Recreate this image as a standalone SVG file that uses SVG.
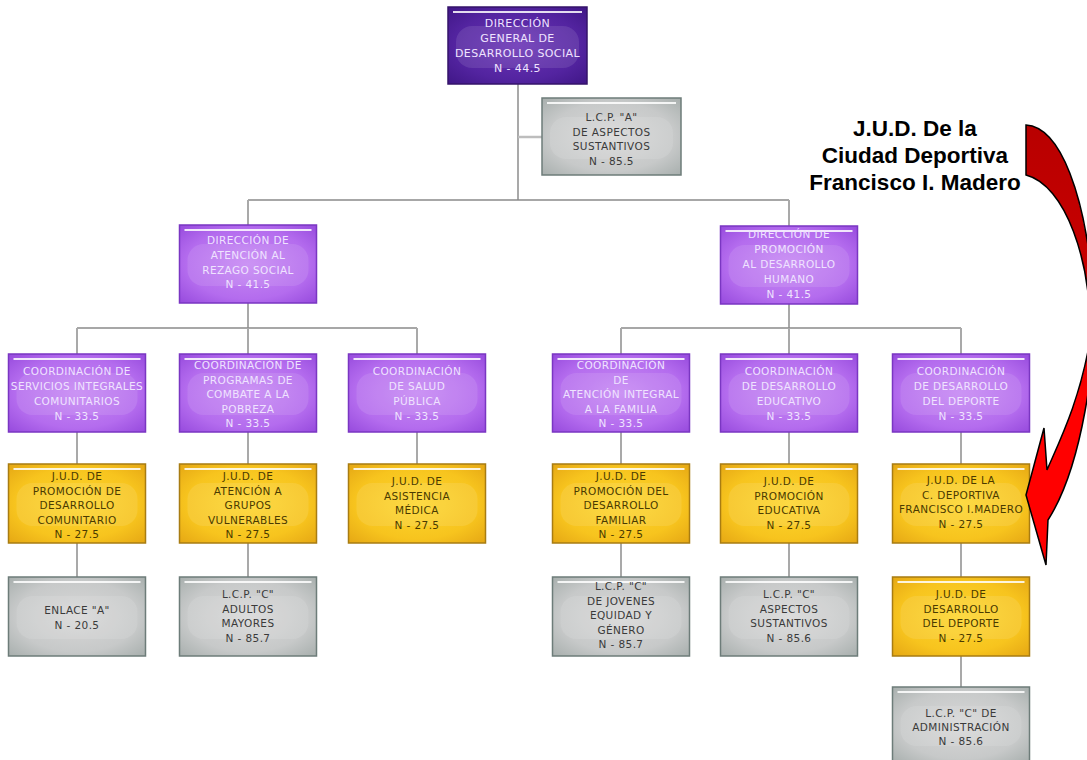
<svg xmlns="http://www.w3.org/2000/svg" width="1087" height="760" viewBox="0 0 1087 760">
<style>
.box-dp{fill:url(#gDP);stroke:#35136a;stroke-width:1.5}
.box-p{fill:url(#gP);stroke:#7a36c2;stroke-width:1.5}
.box-o{fill:url(#gO);stroke:#a87c12;stroke-width:1.5}
.box-g{fill:url(#gG);stroke:#6d7c79;stroke-width:1.5}
.hl{fill:#ffffff;opacity:.85}
.band{fill:#ffffff;opacity:.1}
.t{font-family:"DejaVu Sans","Liberation Sans",sans-serif;font-size:10.5px;text-anchor:middle;letter-spacing:.4px}
.tl{fill:#efe3ff}
.to{fill:#4a3a00}
.tg{fill:#3a3a3a}
.bar{stroke:#8a8a8a;stroke-width:1.5;fill:none}
.drop{stroke:#a9a9a9;stroke-width:2;fill:none}
.note{font-family:"Liberation Sans",Arial,sans-serif;font-weight:bold;font-size:22.5px;text-anchor:middle;fill:#000}
</style>
<defs>
<radialGradient id="gDP" cx=".5" cy=".5" r=".75"><stop offset="0" stop-color="#6a34b6"/><stop offset=".6" stop-color="#5324a0"/><stop offset="1" stop-color="#3c1482"/></radialGradient>
<radialGradient id="gP" cx=".5" cy=".5" r=".75"><stop offset="0" stop-color="#c688f3"/><stop offset=".6" stop-color="#b46cee"/><stop offset="1" stop-color="#9144da"/></radialGradient>
<radialGradient id="gO" cx=".5" cy=".5" r=".75"><stop offset="0" stop-color="#fdd62e"/><stop offset=".6" stop-color="#f7c41e"/><stop offset="1" stop-color="#e2a212"/></radialGradient>
<radialGradient id="gG" cx=".5" cy=".5" r=".75"><stop offset="0" stop-color="#d8d8d8"/><stop offset=".6" stop-color="#c7c9c9"/><stop offset="1" stop-color="#a2aaa8"/></radialGradient>
<linearGradient id="gR" gradientUnits="userSpaceOnUse" x1="0" y1="125" x2="0" y2="565"><stop offset="0" stop-color="#b80000"/><stop offset=".4" stop-color="#cc0000"/><stop offset=".62" stop-color="#ff0000"/><stop offset="1" stop-color="#ff0000"/></linearGradient>
</defs>
<rect width="1087" height="760" fill="#ffffff"/>

<g id="connectors">
<path class="drop" d="M518,84 V200"/>
<path d="M518,137 H542" stroke="#bdbdbd" stroke-width="2.5" fill="none"/>
<path class="bar" d="M248,200 H789"/>
<path class="drop" d="M248,200 V225 M789,200 V226 M248,303 V328 M789,304 V328"/>
<path class="bar" d="M77,328 H417 M621,328 H961"/>
<path class="drop" d="M77,328 V354 M248,328 V354 M417,328 V354 M621,328 V354 M789,328 V354 M961,328 V354"/>
<path class="drop" d="M77,432 V464 M248,432 V464 M417,432 V464 M621,432 V464 M789,432 V464 M961,432 V464"/>
<path class="drop" d="M77,543 V577 M248,543 V577 M621,543 V577 M789,543 V577 M961,543 V577 M961,656 V687"/>
</g>

<g id="n-dg"><rect class="box-dp" x="448" y="7" width="139" height="77"/><rect class="band" x="456" y="26" width="123" height="42" rx="16"/><rect class="hl" x="453" y="11" width="129" height="2"/>
<text class="t tl" style="font-size:11px"><tspan x="517.5" y="27">DIRECCIÓN</tspan><tspan x="517.5" y="42">GENERAL DE</tspan><tspan x="517.5" y="57">DESARROLLO SOCIAL</tspan><tspan x="517.5" y="72">N - 44.5</tspan></text></g>

<g id="n-lcpa"><rect class="box-g" x="542" y="98" width="139" height="77"/><rect class="band" x="550" y="117" width="123" height="42" rx="16"/><rect class="hl" x="547" y="102" width="129" height="2"/>
<text class="t tg"><tspan x="611.5" y="121">L.C.P. "A"</tspan><tspan x="611.5" y="136">DE ASPECTOS</tspan><tspan x="611.5" y="150">SUSTANTIVOS</tspan><tspan x="611.5" y="165">N - 85.5</tspan></text></g>

<g id="n-dars"><rect class="box-p" x="179.5" y="225" width="137" height="78"/><rect class="band" x="187.5" y="244" width="121" height="42" rx="16"/><rect class="hl" x="184.5" y="229" width="127" height="2"/>
<text class="t tl"><tspan x="248" y="244">DIRECCIÓN DE</tspan><tspan x="248" y="259">ATENCIÓN AL</tspan><tspan x="248" y="274">REZAGO SOCIAL</tspan><tspan x="248" y="288">N - 41.5</tspan></text></g>

<g id="n-dpdh"><rect class="box-p" x="720.5" y="226" width="137" height="78"/><rect class="band" x="728.5" y="245" width="121" height="42" rx="16"/><rect class="hl" x="725.5" y="230" width="127" height="2"/>
<text class="t tl"><tspan x="789" y="238">DIRECCIÓN DE</tspan><tspan x="789" y="253">PROMOCIÓN</tspan><tspan x="789" y="268">AL DESARROLLO</tspan><tspan x="789" y="283">HUMANO</tspan><tspan x="789" y="298">N - 41.5</tspan></text></g>

<g id="n-c1"><rect class="box-p" x="8.5" y="354" width="137" height="78"/><rect class="band" x="16.5" y="373" width="121" height="42" rx="16"/><rect class="hl" x="13.5" y="358" width="127" height="2"/>
<text class="t tl"><tspan x="77" y="375">COORDINACIÓN DE</tspan><tspan x="77" y="390">SERVICIOS INTEGRALES</tspan><tspan x="77" y="405">COMUNITARIOS</tspan><tspan x="77" y="420">N - 33.5</tspan></text></g>

<g id="n-c2"><rect class="box-p" x="179.5" y="354" width="137" height="78"/><rect class="band" x="187.5" y="373" width="121" height="42" rx="16"/><rect class="hl" x="184.5" y="358" width="127" height="2"/>
<text class="t tl"><tspan x="248" y="369">COORDINACIÓN DE</tspan><tspan x="248" y="383.5">PROGRAMAS DE</tspan><tspan x="248" y="398">COMBATE A LA</tspan><tspan x="248" y="412.5">POBREZA</tspan><tspan x="248" y="427">N - 33.5</tspan></text></g>

<g id="n-c3"><rect class="box-p" x="348.5" y="354" width="137" height="78"/><rect class="band" x="356.5" y="373" width="121" height="42" rx="16"/><rect class="hl" x="353.5" y="358" width="127" height="2"/>
<text class="t tl"><tspan x="417" y="375">COORDINACIÓN</tspan><tspan x="417" y="390">DE SALUD</tspan><tspan x="417" y="405">PÚBLICA</tspan><tspan x="417" y="420">N - 33.5</tspan></text></g>

<g id="n-c4"><rect class="box-p" x="552.5" y="354" width="137" height="78"/><rect class="band" x="560.5" y="373" width="121" height="42" rx="16"/><rect class="hl" x="557.5" y="358" width="127" height="2"/>
<text class="t tl"><tspan x="621" y="369">COORDINACIÓN</tspan><tspan x="621" y="383.5">DE</tspan><tspan x="621" y="398">ATENCIÓN INTEGRAL</tspan><tspan x="621" y="412.5">A LA FAMILIA</tspan><tspan x="621" y="427">N - 33.5</tspan></text></g>

<g id="n-c5"><rect class="box-p" x="720.5" y="354" width="137" height="78"/><rect class="band" x="728.5" y="373" width="121" height="42" rx="16"/><rect class="hl" x="725.5" y="358" width="127" height="2"/>
<text class="t tl"><tspan x="789" y="375">COORDINACIÓN</tspan><tspan x="789" y="390">DE DESARROLLO</tspan><tspan x="789" y="405">EDUCATIVO</tspan><tspan x="789" y="420">N - 33.5</tspan></text></g>

<g id="n-c6"><rect class="box-p" x="892.5" y="354" width="137" height="78"/><rect class="band" x="900.5" y="373" width="121" height="42" rx="16"/><rect class="hl" x="897.5" y="358" width="127" height="2"/>
<text class="t tl"><tspan x="961" y="375">COORDINACIÓN</tspan><tspan x="961" y="390">DE DESARROLLO</tspan><tspan x="961" y="405">DEL DEPORTE</tspan><tspan x="961" y="420">N - 33.5</tspan></text></g>

<g id="n-j1"><rect class="box-o" x="8.5" y="464" width="137" height="79"/><rect class="band" x="16.5" y="483" width="121" height="43" rx="16"/><rect class="hl" x="13.5" y="468" width="127" height="2"/>
<text class="t to"><tspan x="77" y="480">J.U.D. DE</tspan><tspan x="77" y="494.5">PROMOCIÓN DE</tspan><tspan x="77" y="509">DESARROLLO</tspan><tspan x="77" y="523.5">COMUNITARIO</tspan><tspan x="77" y="538">N - 27.5</tspan></text></g>

<g id="n-j2"><rect class="box-o" x="179.5" y="464" width="137" height="79"/><rect class="band" x="187.5" y="483" width="121" height="43" rx="16"/><rect class="hl" x="184.5" y="468" width="127" height="2"/>
<text class="t to"><tspan x="248" y="480">J.U.D. DE</tspan><tspan x="248" y="494.5">ATENCIÓN A</tspan><tspan x="248" y="509">GRUPOS</tspan><tspan x="248" y="523.5">VULNERABLES</tspan><tspan x="248" y="538">N - 27.5</tspan></text></g>

<g id="n-j3"><rect class="box-o" x="348.5" y="464" width="137" height="79"/><rect class="band" x="356.5" y="483" width="121" height="43" rx="16"/><rect class="hl" x="353.5" y="468" width="127" height="2"/>
<text class="t to"><tspan x="417" y="485">J.U.D. DE</tspan><tspan x="417" y="499.5">ASISTENCIA</tspan><tspan x="417" y="514">MÉDICA</tspan><tspan x="417" y="528.5">N - 27.5</tspan></text></g>

<g id="n-j4"><rect class="box-o" x="552.5" y="464" width="137" height="79"/><rect class="band" x="560.5" y="483" width="121" height="43" rx="16"/><rect class="hl" x="557.5" y="468" width="127" height="2"/>
<text class="t to"><tspan x="621" y="480">J.U.D. DE</tspan><tspan x="621" y="494.5">PROMOCIÓN DEL</tspan><tspan x="621" y="509">DESARROLLO</tspan><tspan x="621" y="523.5">FAMILIAR</tspan><tspan x="621" y="538">N - 27.5</tspan></text></g>

<g id="n-j5"><rect class="box-o" x="720.5" y="464" width="137" height="79"/><rect class="band" x="728.5" y="483" width="121" height="43" rx="16"/><rect class="hl" x="725.5" y="468" width="127" height="2"/>
<text class="t to"><tspan x="789" y="485">J.U.D. DE</tspan><tspan x="789" y="499.5">PROMOCIÓN</tspan><tspan x="789" y="514">EDUCATIVA</tspan><tspan x="789" y="528.5">N - 27.5</tspan></text></g>

<g id="n-j6"><rect class="box-o" x="892.5" y="464" width="137" height="79"/><rect class="band" x="900.5" y="483" width="121" height="43" rx="16"/><rect class="hl" x="897.5" y="468" width="127" height="2"/>
<text class="t to"><tspan x="961" y="484">J.U.D. DE LA</tspan><tspan x="961" y="498.5">C. DEPORTIVA</tspan><tspan x="961" y="513">FRANCISCO I.MADERO</tspan><tspan x="961" y="527.5">N - 27.5</tspan></text></g>

<g id="n-b1"><rect class="box-g" x="8.5" y="577" width="137" height="79"/><rect class="band" x="16.5" y="596" width="121" height="43" rx="16"/><rect class="hl" x="13.5" y="581" width="127" height="2"/>
<text class="t tg"><tspan x="77" y="614">ENLACE "A"</tspan><tspan x="77" y="629">N - 20.5</tspan></text></g>

<g id="n-b2"><rect class="box-g" x="179.5" y="577" width="137" height="79"/><rect class="band" x="187.5" y="596" width="121" height="43" rx="16"/><rect class="hl" x="184.5" y="581" width="127" height="2"/>
<text class="t tg"><tspan x="248" y="598">L.C.P. "C"</tspan><tspan x="248" y="612.5">ADULTOS</tspan><tspan x="248" y="627">MAYORES</tspan><tspan x="248" y="641.5">N - 85.7</tspan></text></g>

<g id="n-b4"><rect class="box-g" x="552.5" y="577" width="137" height="79"/><rect class="band" x="560.5" y="596" width="121" height="43" rx="16"/><rect class="hl" x="557.5" y="581" width="127" height="2"/>
<text class="t tg"><tspan x="621" y="590">L.C.P. "C"</tspan><tspan x="621" y="604.5">DE JOVENES</tspan><tspan x="621" y="619">EQUIDAD Y</tspan><tspan x="621" y="633.5">GÉNERO</tspan><tspan x="621" y="648">N - 85.7</tspan></text></g>

<g id="n-b5"><rect class="box-g" x="720.5" y="577" width="137" height="79"/><rect class="band" x="728.5" y="596" width="121" height="43" rx="16"/><rect class="hl" x="725.5" y="581" width="127" height="2"/>
<text class="t tg"><tspan x="789" y="598">L.C.P. "C"</tspan><tspan x="789" y="612.5">ASPECTOS</tspan><tspan x="789" y="627">SUSTANTIVOS</tspan><tspan x="789" y="641.5">N - 85.6</tspan></text></g>

<g id="n-j7"><rect class="box-o" x="892.5" y="577" width="137" height="79"/><rect class="band" x="900.5" y="596" width="121" height="43" rx="16"/><rect class="hl" x="897.5" y="581" width="127" height="2"/>
<text class="t to"><tspan x="961" y="598">J.U.D. DE</tspan><tspan x="961" y="612.5">DESARROLLO</tspan><tspan x="961" y="627">DEL DEPORTE</tspan><tspan x="961" y="641.5">N - 27.5</tspan></text></g>

<g id="n-b7"><rect class="box-g" x="892.5" y="687" width="137" height="76"/><rect class="band" x="900.5" y="706" width="121" height="40" rx="16"/><rect class="hl" x="897.5" y="691" width="127" height="2"/>
<text class="t tg"><tspan x="961" y="717">L.C.P. "C" DE</tspan><tspan x="961" y="731">ADMINISTRACIÓN</tspan><tspan x="961" y="745">N - 85.6</tspan></text></g>

<g id="annotation">
<text class="note"><tspan x="915" y="136">J.U.D. De la</tspan><tspan x="915" y="163">Ciudad Deportiva</tspan><tspan x="915" y="190">Francisco I. Madero</tspan></text>
<path d="M1026,125 C1062,127 1085,200 1092,280 C1100,360 1080,470 1048,520 L1046,565 L1026,495 L1044,428 L1047,470 C1060,440 1080,400 1090,340 C1092,260 1065,185 1026,175 Z" fill="url(#gR)" stroke="#000" stroke-width="1.5" stroke-linejoin="miter"/>
</g>
</svg>
